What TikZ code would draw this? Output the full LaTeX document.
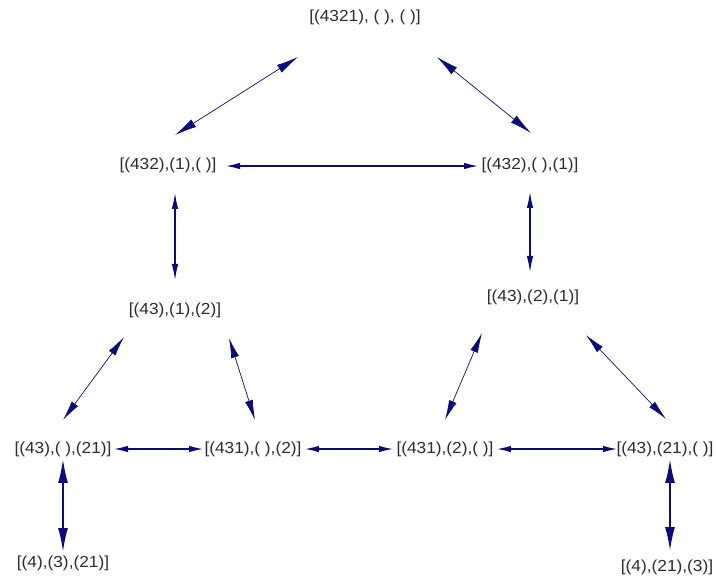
\documentclass[tikz,border=0pt]{standalone}
\usepackage{fontspec}
\setmainfont{Liberation Sans}[FakeStretch=1.08]
\usetikzlibrary{arrows.meta}
\definecolor{edgeblue}{RGB}{12,12,118}
\definecolor{labelgray}{RGB}{45,45,45}
\begin{document}
\begin{tikzpicture}[x=1pt,y=-1pt,
  state/.style={inner sep=0pt, text=labelgray, font=\fontsize{16}{17}\selectfont},
  link/.style={draw=edgeblue, line width=0.7pt,
    {Latex[length=20pt,width=8pt]}-{Latex[length=20pt,width=8pt]}},
  biglink/.style={link, {Latex[length=22pt,width=9pt]}-{Latex[length=22pt,width=9pt]}},
  hlink/.style={draw=edgeblue, line width=1.2pt,
    {Latex[length=14pt,width=6.5pt]}-{Latex[length=14pt,width=6.5pt]}},
  vlink/.style={draw=edgeblue, line width=1.1pt,
    {Latex[length=16pt,width=6.5pt]}-{Latex[length=16pt,width=6.5pt]}},
  thicklink/.style={draw=edgeblue, line width=2pt,
    {Latex[length=24pt,width=10pt]}-{Latex[length=24pt,width=10pt]}}
]
\useasboundingbox[fill=white] (0,0) rectangle (716,580);

% states
\node[state] (T)  at (365,17)  {[(4321), ( ), ( )]};
\node[state] (L1) at (168,165) {[(432),(1),( )]};
\node[state] (R1) at (530,165) {[(432),( ),(1)]};
\node[state] (L2) at (175,310) {[(43),(1),(2)]};
\node[state] (R2) at (533,297) {[(43),(2),(1)]};
\node[state] (A)  at (63,449)  {[(43),( ),(21)]};
\node[state] (B)  at (253,449) {[(431),( ),(2)]};
\node[state] (C)  at (445,449) {[(431),(2),( )]};
\node[state] (D)  at (665,449) {[(43),(21),( )]};
\node[state] (E)  at (63,563)  {[(4),(3),(21)]};
\node[state] (F)  at (667,567) {[(4),(21),(3)]};

% transitions
\draw[biglink] ([shift={(7,-30)}]L1.center) -- ([shift={(-67,40)}]T.center);
\draw[biglink] ([shift={(72,40)}]T.center) -- ([shift={(1,-32)}]R1.center);
\draw[hlink] ([shift={(58,1)}]L1.center) -- ([shift={(-52,1)}]R1.center);
\draw[vlink] ([shift={(7,28)}]L1.center) -- ([shift={(0,-30)}]L2.center);
\draw[vlink] ([shift={(0,27)}]R1.center) -- ([shift={(-3,-25)}]R2.center);
\draw[link] ([shift={(-51,27)}]L2.center) -- ([shift={(0,-29)}]A.center);
\draw[link] ([shift={(54,28)}]L2.center) -- ([shift={(2,-29)}]B.center);
\draw[link] ([shift={(-51,36)}]R2.center) -- ([shift={(0,-29)}]C.center);
\draw[link] ([shift={(53,38)}]R2.center) -- ([shift={(1,-30)}]D.center);
\draw[hlink] ([shift={(51,0)}]A.center) -- ([shift={(-50,0)}]B.center);
\draw[hlink] ([shift={(52,0)}]B.center) -- ([shift={(-52,0)}]C.center);
\draw[hlink] ([shift={(52,0)}]C.center) -- ([shift={(-48,0)}]D.center);
\draw[thicklink] ([shift={(0,10)}]A.center) -- ([shift={(0,-11)}]E.center);
\draw[thicklink] ([shift={(5,10)}]D.center) -- ([shift={(3,-16)}]F.center);
\end{tikzpicture}
\end{document}
